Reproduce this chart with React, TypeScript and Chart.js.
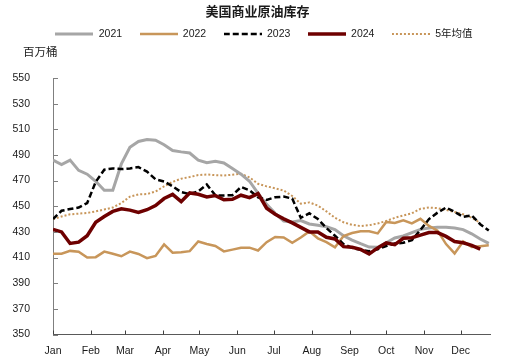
import React, { useEffect, useRef } from "react";
import { Chart, registerables } from "chart.js";

Chart.register(...registerables);

const monthLabels = ["Jan", "Feb", "Mar", "Apr", "May", "Jun", "Jul", "Aug", "Sep", "Oct", "Nov", "Dec"];
const monthStarts = [0, 31, 59, 90, 120, 151, 181, 212, 243, 273, 304, 334];
const yTickMin = 350;
const yTickMax = 550;
const yTickStep = 20;

const data2021 = [486, 482.5, 486, 478, 475, 469.5, 462.5, 462.5, 483, 496, 500.5, 502, 501.5, 498, 493.5, 492.4, 491.5, 486, 484, 485, 483.8, 479.5, 475, 469.5, 460, 451.5, 444.5, 438.5, 437.8, 438.8, 436.2, 435.2, 434, 431.8, 427, 423.6, 420.8, 418.2, 418, 421.5, 425.3, 426.8, 429.5, 432, 433, 433.6, 433.6, 433, 431.8, 428.5, 424.5, 421];
const data2022 = [413, 413, 415.2, 414.6, 410, 410.3, 414.6, 413, 411, 414.6, 412.8, 409.5, 411.3, 420.2, 413.8, 414.2, 415, 422.5, 420.6, 419, 414.8, 416.2, 417.6, 417.7, 415.5, 422, 426, 425.7, 421.5, 425.6, 430.4, 425, 422, 418, 426.8, 429.1, 430.5, 430.5, 428.8, 437.8, 437, 439, 436.7, 440.2, 434.7, 431, 420.5, 413.2, 422.5, 418.2, 418.8, 419.5];
const data2023 = [440, 446.5, 447.8, 449, 452.5, 469, 478.5, 479.5, 479, 479.5, 480.5, 477, 471, 469.3, 465.5, 461, 459.5, 461.5, 467, 458.5, 458.4, 458.6, 465, 462.5, 457, 455, 457, 457.5, 456, 441, 444.5, 440, 433, 427, 420.5, 417.5, 416, 415, 416.5, 419, 420.9, 421.5, 423.5, 431.5, 440, 445, 449, 445.6, 441.7, 442.8, 436, 431];
const data2024 = [432, 430, 421, 422, 427, 437.5, 442, 446, 448, 447, 445.2, 447.3, 450.5, 456, 459.3, 453.6, 460.4, 459.3, 457.3, 458.3, 455, 455.4, 458.6, 456.7, 459.9, 448.5, 443.8, 440.2, 437, 433.5, 430, 430, 425.8, 424.5, 418.5, 418, 416.4, 412.8, 417.5, 421.4, 420, 425, 425.5, 427.5, 429.5, 429.5, 426.5, 422.5, 421.5, 419.5, 416.5];
const data5yr = [440, 442, 443.7, 444.2, 444.8, 446, 447.5, 449, 452.5, 457.5, 459.2, 459.5, 461.5, 465.5, 469, 471.5, 472.8, 474.3, 474.8, 474.2, 474, 474.6, 475.3, 472.5, 467.5, 465.5, 464, 462.3, 458, 452, 453, 450.5, 446, 441, 437.5, 435.5, 434.6, 435.2, 436.6, 438.5, 441, 442.8, 444.5, 448, 449, 448.5, 447.2, 445.5, 443.8, 441, 437];

const seriesNames = ["2021", "2022", "2023", "2024", "5年均值"];
const titleText = "美国商业原油库存";
const unitText = "百万桶";

const toPoints = (arr: number[]) => arr.map((v, i) => ({ x: i * 7, y: v }));

const TAN = "#c8965a";
const GRAY = "#a6a6a6";
const RED = "#6e0000";
const FONT = "'Liberation Sans', 'Noto Sans CJK SC', Arial, sans-serif";
const CJK = "'Noto Sans CJK SC', 'Liberation Sans', sans-serif";

const styles = [
  { color: GRAY, width: 3, dash: [] as number[], order: 3 },
  { color: TAN, width: 2.5, dash: [] as number[], order: 2 },
  { color: "#000000", width: 2.5, dash: [6, 3], order: 1 },
  { color: RED, width: 3.5, dash: [] as number[], order: 0 },
  { color: TAN, width: 2, dash: [2, 2], order: 4 },
];

function makeIcon(color: string, width: number, dash: number[]) {
  const c = document.createElement("canvas");
  c.width = 38;
  c.height = 8;
  const g = c.getContext("2d");
  if (g) {
    g.strokeStyle = color;
    g.lineWidth = width;
    g.setLineDash(dash);
    g.beginPath();
    g.moveTo(0, 4);
    g.lineTo(38, 4);
    g.stroke();
  }
  return c;
}

const decorPlugin = {
  id: "decor",
  afterInit(chart: any) {
    const lg = chart.legend;
    if (lg && !lg.__patched) {
      const orig = lg.fit.bind(lg);
      lg.fit = () => {
        orig();
        lg.height += 28.75;
      };
      lg.__patched = true;
    }
  },
  afterLayout(chart: any) {
    const lg = chart.legend;
    if (lg) {
      lg.left += 19;
      lg.right += 19;
    }
    const tt = chart.titleBlock;
    if (tt) {
      tt.left += 12.5;
      tt.right += 12.5;
    }
  },
  afterDraw(chart: any) {
    const ctx = chart.ctx;
    const { left, bottom } = chart.chartArea;
    const ys = chart.scales.y;
    const xs = chart.scales.x;
    ctx.save();
    ctx.lineWidth = 1;
    ctx.strokeStyle = "#7f7f7f";
    ctx.beginPath();
    ys.ticks.forEach((_t: any, i: number) => {
      const py = Math.round(ys.getPixelForTick(i)) + 0.5;
      ctx.moveTo(left, py);
      ctx.lineTo(left + 5, py);
    });
    ctx.stroke();
    ctx.strokeStyle = "#404040";
    ctx.beginPath();
    xs.ticks.forEach((_t: any, i: number) => {
      const px = Math.round(xs.getPixelForTick(i)) + 0.5;
      ctx.moveTo(px, bottom);
      ctx.lineTo(px, bottom - 4);
    });
    ctx.stroke();
    ctx.fillStyle = "#1a1a1a";
    ctx.font = `11.5px ${CJK}`;
    ctx.textAlign = "left";
    ctx.textBaseline = "middle";
    ctx.fillText(unitText, 23, 51.5);
    ctx.restore();
  },
};

export default function App() {
  const canvasRef = useRef<HTMLCanvasElement | null>(null);

  useEffect(() => {
    if (!canvasRef.current) return;
    const icons = styles.map((s) => makeIcon(s.color, s.width, s.dash));
    const seriesData = [data2021, data2022, data2023, data2024, data5yr];
    const chart = new Chart(canvasRef.current, {
      type: "line",
      data: {
        datasets: seriesData.map((d, i) => ({
          label: seriesNames[i],
          data: toPoints(d),
          borderColor: styles[i].color,
          backgroundColor: styles[i].color,
          borderWidth: styles[i].width,
          borderDash: styles[i].dash,
          pointRadius: 0,
          pointHoverRadius: 0,
          order: styles[i].order,
        })) as any,
      },
      options: {
        animation: false,
        responsive: true,
        maintainAspectRatio: false,
        layout: { padding: { left: 0, right: 15, top: 0, bottom: 0 } },
        plugins: {
          title: {
            display: true,
            text: titleText,
            color: "#1a1a1a",
            font: { family: CJK, size: 13, weight: "bold" },
            padding: { top: 3, bottom: -7.35 },
          },
          legend: {
            display: true,
            position: "top",
            labels: {
              usePointStyle: true,
              pointStyleWidth: 38,
              padding: 17.5,
              color: "#1a1a1a",
              font: { family: FONT, size: 10.5 },
              sort: (a: any, b: any) => a.datasetIndex - b.datasetIndex,
              generateLabels: (ch: any) => {
                const items = (Chart as any).defaults.plugins.legend.labels.generateLabels(ch);
                items.forEach((it: any) => {
                  it.pointStyle = icons[it.datasetIndex];
                });
                return items;
              },
            },
          },
          tooltip: { enabled: false },
        },
        scales: {
          x: {
            type: "linear",
            min: 0,
            max: 358,
            afterBuildTicks: (scale: any) => {
              scale.ticks = monthStarts.map((v) => ({ value: v }));
            },
            afterFit: (scale: any) => {
              scale.height = 29.5;
            },
            grid: { display: false },
            border: { display: true, color: "#595959", width: 1 },
            ticks: {
              autoSkip: false,
              maxRotation: 0,
              minRotation: 0,
              padding: 2,
              color: "#1a1a1a",
              font: { family: FONT, size: 10.5 },
              callback: (v: any) => {
                const idx = monthStarts.indexOf(Number(v));
                return idx >= 0 ? monthLabels[idx] : "";
              },
            },
          },
          y: {
            type: "linear",
            min: yTickMin,
            max: yTickMax,
            afterFit: (scale: any) => {
              scale.width = 53;
            },
            grid: { display: false },
            border: { display: true, color: "#7f7f7f", width: 1 },
            ticks: {
              stepSize: yTickStep,
              padding: 15,
              color: "#1a1a1a",
              font: { family: FONT, size: 10.5 },
            },
          },
        },
      } as any,
      plugins: [decorPlugin as any],
    });
    return () => chart.destroy();
  }, []);

  return (
    <div style={{ position: "absolute", left: 0, top: 0, width: 505, height: 364 }}>
      <canvas ref={canvasRef} />
    </div>
  );
}
